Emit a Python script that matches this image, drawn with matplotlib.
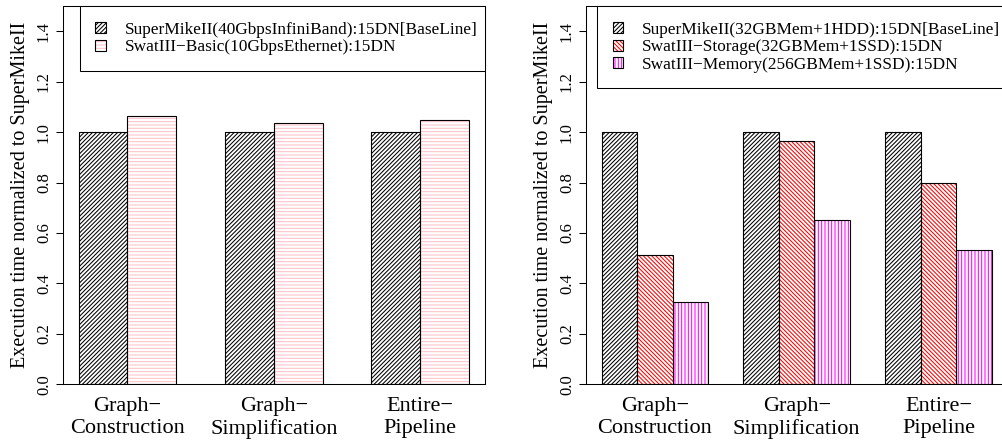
import matplotlib
matplotlib.use("Agg")
import matplotlib.pyplot as plt
from matplotlib.patches import Patch
import numpy as np

plt.rcParams['font.family'] = ['Liberation Serif', 'DejaVu Serif']
plt.rcParams['hatch.linewidth'] = 0.75

stages = ["Graph\u2212\nConstruction", "Graph\u2212\nSimplification", "Entire\u2212\nPipeline"]

# left panel: network
net_labels = ["SuperMikeII(40GbpsInfiniBand):15DN[BaseLine]",
              "SwatIII\u2212Basic(10GbpsEthernet):15DN"]
net_baseline = [1.0, 1.0, 1.0]
net_swat = [1.065, 1.038, 1.046]

# right panel: storage / memory
sto_labels = ["SuperMikeII(32GBMem+1HDD):15DN[BaseLine]",
              "SwatIII\u2212Storage(32GBMem+1SSD):15DN",
              "SwatIII\u2212Memory(256GBMem+1SSD):15DN"]
sto_baseline = [1.0, 1.0, 1.0]
sto_storage = [0.512, 0.963, 0.798]
sto_memory = [0.327, 0.652, 0.532]

W, H = 1002, 444
fig = plt.figure(figsize=(W / 100, H / 100), dpi=100)

ax_bottom = (H - 384.3) / H
ax_height = (384.3 - 6) / H
axL = fig.add_axes([63 / W, ax_bottom, 421.7 / W, ax_height])
axR = fig.add_axes([586 / W, ax_bottom, 421.3 / W, ax_height])


def draw_panel(ax, series, styles, labels, legend_x0):
    n = len(series)
    ngroups = len(series[0])
    handles = []
    for k, (vals, (col, hatch)) in enumerate(zip(series, styles)):
        x = np.arange(ngroups) * (n + 1) + 1.5 + k
        ax.bar(x, vals, width=1.0, color='none', edgecolor=col, hatch=hatch, linewidth=0)
        ax.bar(x, vals, width=1.0, fill=False, edgecolor='black', linewidth=0.8)
        h1 = Patch(facecolor='white', edgecolor=col, hatch=hatch, linewidth=0)
        h2 = Patch(fill=False, edgecolor='black', linewidth=0.8)
        handles.append((h1, h2))
    span = ngroups * (n + 1)
    ext = 0.04 * (span - 1)
    ax.set_xlim(1 - ext, span + ext)
    ax.set_ylim(0, 1.5)
    centers = np.arange(ngroups) * (n + 1) + 1 + n / 2
    ax.set_xticks(centers)
    ax.set_xticklabels(stages, fontsize=16, linespacing=1.2)
    ax.tick_params(axis='x', length=0, pad=9)
    ax.set_yticks(np.arange(0, 1.41, 0.2))
    ax.set_yticklabels(["%.1f" % v for v in np.arange(0, 1.41, 0.2)],
                       rotation=90, va='center', fontsize=12)
    ax.tick_params(axis='y', length=5, width=0.75, pad=3)
    for s in ax.spines.values():
        s.set_linewidth(0.75)
    ax.set_ylabel("Execution time normalized to SuperMikeII", fontsize=14.5)
    ax.yaxis.set_label_coords(-0.078, 0.5)
    leg = ax.legend(handles, labels, loc='upper left',
                    bbox_to_anchor=(legend_x0, 0, 1 - legend_x0, 1), mode='expand',
                    borderaxespad=0, fontsize=12.4, handlelength=0.6, handleheight=0.6,
                    handletextpad=1.1, borderpad=0.9, labelspacing=0.1,
                    fancybox=False, framealpha=1, edgecolor='black')
    leg.get_frame().set_linewidth(0.75)


draw_panel(axL, [net_baseline, net_swat],
           [('black', '////////'), ('pink', '-----')], net_labels, (80 - 63) / 421.7)
draw_panel(axR, [sto_baseline, sto_storage, sto_memory],
           [('black', '////////'), ('red', '\\' * 8), ('magenta', '|||||')],
           sto_labels, (597 - 586) / 421.3)

fig.savefig("out.png", dpi=100)
